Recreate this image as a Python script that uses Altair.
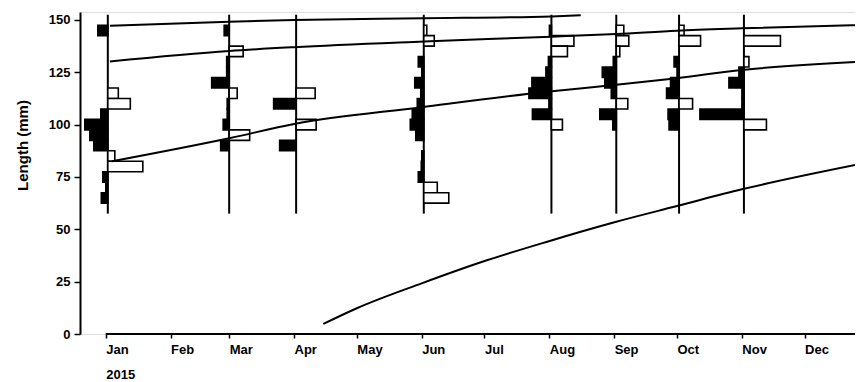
import altair as alt
import pandas as pd

# ---- data ----
sample_dates = ["2015-01-02", "2015-03-01", "2015-04-02", "2015-06-02",
                "2015-08-02", "2015-09-02", "2015-10-02", "2015-11-02"]

# restructured length-frequency scores per sample (length class mid, mm) ; + = peak (black), - = trough (white)
jan_len = [145, 115, 110, 105, 100, 95, 90, 85, 80, 75, 70, 65]
jan_score = [1.0, -1.05, -2.25, 0.7, 2.3, 1.8, 1.4, -0.7, -3.5, 0.5, 0.2, 0.65]
mar_len = [145, 135, 130, 125, 120, 115, 110, 105, 100, 95, 90]
mar_score = [0.5, -1.4, 0.25, 0.25, 1.75, -0.8, 0.2, 0.2, 0.6, -2.05, 0.85]
apr_len = [115, 110, 100, 90]
apr_score = [-1.9, 2.25, -2.0, 1.65]
jun_len = [145, 140, 130, 125, 120, 115, 110, 105, 100, 95, 85, 80, 75, 70, 65]
jun_score = [-0.3, -1.05, 0.55, 0.2, 0.9, 0.3, 0.65, 1.15, 1.35, 0.8, 0.2, 0.25, 0.55, -1.35, -2.5]
aug_len = [145, 140, 135, 130, 125, 120, 115, 110, 105, 100]
aug_score = [0.2, -2.25, -1.6, 0.3, 0.55, 1.95, 2.25, 0.25, 1.9, -1.1]
sep_len = [145, 140, 135, 130, 125, 120, 115, 110, 105, 100]
sep_score = [-0.75, -1.25, -0.35, 0.3, 1.4, 1.15, 0.5, -1.15, 1.65, 0.35]
oct_len = [145, 140, 130, 125, 120, 115, 110, 105, 100]
oct_score = [-0.5, -2.15, 0.5, 0.2, 0.85, 1.25, -1.35, 1.1, 1.0]
nov_len = [140, 130, 125, 120, 115, 110, 105, 100]
nov_score = [-3.65, -0.5, 0.5, 1.5, 0.2, 0.2, 4.4, -2.25]

bin_width = 5.0          # mm length classes
length_min, length_max = 57.5, 152.5
days_per_score = 4.78    # horizontal bar length of one score unit, in days

# growth curves (date, length mm)
curve_a_dates = ["2015-01-03", "2015-03-01", "2015-04-01", "2015-06-02", "2015-08-02", "2015-08-16"]
curve_a_len = [147.2, 149.2, 150.0, 150.8, 151.7, 152.2]
curve_b_dates = ["2015-01-03", "2015-03-01", "2015-04-01", "2015-06-02", "2015-08-02",
                 "2015-09-02", "2015-10-01", "2015-11-01", "2015-12-29"]
curve_b_len = [130.2, 135.2, 137.0, 139.7, 142.0, 143.3, 144.9, 146.0, 147.6]
curve_c_dates = ["2015-01-04", "2015-03-01", "2015-04-01", "2015-06-01", "2015-08-01",
                 "2015-09-02", "2015-10-01", "2015-11-01", "2015-12-29"]
curve_c_len = [82.5, 93.5, 100.3, 108.3, 115.8, 119.0, 122.2, 126.1, 130.1]
curve_d_dates = ["2015-04-15", "2015-05-01", "2015-06-01", "2015-06-30", "2015-07-31",
                 "2015-09-02", "2015-10-01", "2015-11-01", "2015-12-29"]
curve_d_len = [4.8, 12.3, 24.2, 34.5, 44.1, 53.6, 61.1, 69.1, 81.5]

y_ticks = [0, 25, 50, 75, 100, 125, 150]

# ---- build tables ----
def iso(ts):
    return ts.strftime("%Y-%m-%dT%H:%M:%SZ")

samples = list(zip(sample_dates,
                   [jan_len, mar_len, apr_len, jun_len, aug_len, sep_len, oct_len, nov_len],
                   [jan_score, mar_score, apr_score, jun_score, aug_score, sep_score, oct_score, nov_score]))
rows = []
for d, lens, scores in samples:
    t0 = pd.Timestamp(d)
    for L, s in zip(lens, scores):
        t1 = t0 - pd.Timedelta(days=s * days_per_score)
        rows.append({"date": iso(t0), "end": iso(t1), "lo": L - bin_width / 2, "hi": L + bin_width / 2,
                     "kind": "peak" if s > 0 else "trough"})
bars = pd.DataFrame(rows)

lines_df = pd.DataFrame({"date": [iso(pd.Timestamp(d)) for d in sample_dates],
                         "lo": length_min, "hi": length_max})

crv = []
for name, ds, ls in [("a", curve_a_dates, curve_a_len), ("b", curve_b_dates, curve_b_len),
                     ("c", curve_c_dates, curve_c_len), ("d", curve_d_dates, curve_d_len)]:
    for d, l in zip(ds, ls):
        crv.append({"curve": name, "date": iso(pd.Timestamp(d)), "lo": l})
curves = pd.DataFrame(crv)

base_df = pd.DataFrame({"date": ["2015-01-01T00:00:00Z"], "lo": [0.0]})

# ---- scales / axes ----
W, H = 775, 322
x_scale = alt.Scale(type="utc",
                    domain=[alt.DateTime(year=2014, month=12, date=19, hours=17, utc=True),
                            alt.DateTime(year=2015, month=12, date=25, hours=2, utc=True)])
y_scale = alt.Scale(domain=[0, 153.8], nice=False, zero=False)

FONT = "Liberation Sans"
x_axis = alt.Axis(values=[alt.DateTime(year=2015, month=m, date=1, utc=True) for m in range(1, 13)],
                  labelExpr="utcmonth(datum.value) == 0 ? ['Jan', '2015'] : utcFormat(datum.value, '%b')",
                  labelAlign="left", labelLineHeight=25, labelFont=FONT, labelFontSize=13,
                  labelFontWeight="bold", labelColor="black", labelPadding=5, labelOverlap=False,
                  labelFlush=False, tickSize=4, tickWidth=1.5, tickColor="black",
                  domain=False, grid=False, title="")
y_axis = alt.Axis(values=y_ticks, labelFont=FONT, labelFontSize=13, labelFontWeight="bold",
                  labelColor="black", labelPadding=4, tickSize=6, tickWidth=1.5, tickColor="black",
                  domainColor="black", domainWidth=2, grid=False,
                  title="Length (mm)", titleFont=FONT, titleFontSize=15, titleFontWeight="bold",
                  titleColor="black", titleX=-58, titleY=133, titleBaseline="middle", titleAngle=270)

X = alt.X("date:T", scale=x_scale, axis=x_axis)
Y = alt.Y("lo:Q", scale=y_scale, axis=y_axis)

rules = alt.Chart(lines_df).mark_rule(color="black", strokeWidth=2).encode(
    x=X, y=Y, y2="hi:Q",
)

rects = alt.Chart(bars).mark_rect(stroke="black", strokeWidth=1.6).encode(
    x=X, x2="end:T", y=Y, y2="hi:Q",
    fill=alt.Fill("kind:N", scale=alt.Scale(domain=["peak", "trough"], range=["black", "white"]), legend=None),
)

growth = alt.Chart(curves).mark_line(color="black", strokeWidth=2, interpolate="monotone", clip=True).encode(
    x=X, y=Y, detail="curve:N",
)

baseline = alt.Chart(base_df).mark_rule(color="black", strokeWidth=2).encode(
    x=X, x2=alt.value(W), y=Y,
)

chart = alt.layer(rules, rects, growth, baseline).properties(
    width=W, height=H,
    autosize=alt.AutoSizeParams(type="none"),
    padding={"left": 72, "top": 4, "right": 0, "bottom": 48},
).configure_view(strokeWidth=0, stroke="transparent").configure(background="white")

chart.save("out.html", embed_options={"renderer": "svg", "actions": False})
